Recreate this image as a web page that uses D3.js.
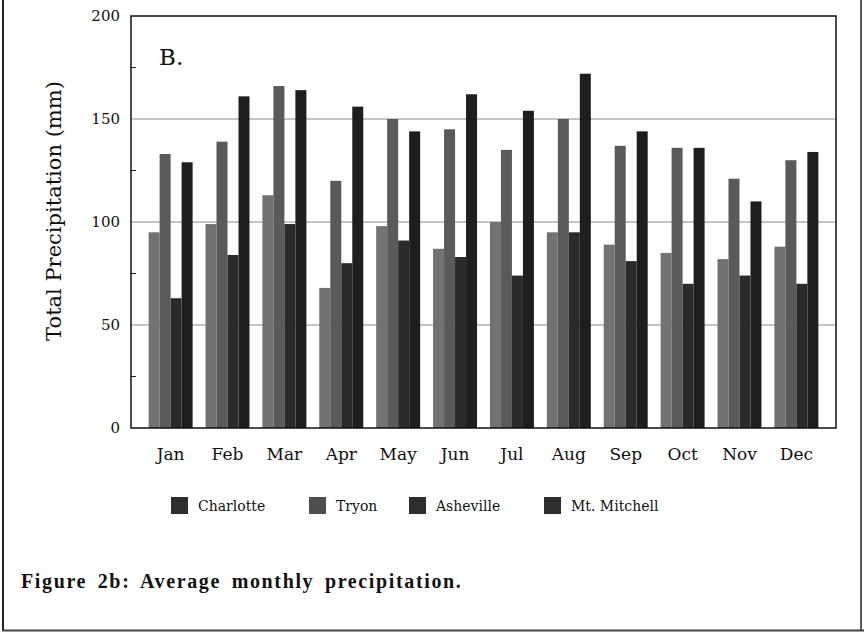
<!DOCTYPE html>
<html><head><meta charset="utf-8">
<script src="https://cdn.jsdelivr.net/npm/d3@7"></script>
<style>body{margin:0;background:#fff}svg{display:block}</style>
</head><body>
<svg id="c" width="864" height="634"></svg>
<script>
const months = ["Jan","Feb","Mar","Apr","May","Jun","Jul","Aug","Sep","Oct","Nov","Dec"];
const stations = ["Charlotte","Tryon","Asheville","Mt. Mitchell"];
const charlotte = [95,99,113,68,98,87,100,95,89,85,82,88];
const tryon     = [133,139,166,120,150,145,135,150,137,136,121,130];
const asheville = [63,84,99,80,91,83,74,95,81,70,74,70];
const mitchell  = [129,161,164,156,144,162,154,172,144,136,110,134];
const yTicks = [0,50,100,150,200];
const yMinor = [25,75,125,175];
const series = [charlotte, tryon, asheville, mitchell];
const colors = ["#727272","#5a5a5a","#2a2a2a","#1e1e1e"];

const svg = d3.select("#c");
const L=131, R=836, T=16, B=428;

const x = d3.scaleBand().domain(months).range([L,R]).paddingInner(0.227).paddingOuter(0.31);
const xs = d3.scaleBand().domain(stations).range([0,x.bandwidth()]).padding(0);
const y = d3.scaleLinear().domain([0,200]).range([B,T]);

// outer frame
svg.append("line").attr("x1",3).attr("x2",3).attr("y1",0).attr("y2",631).attr("stroke","#222").attr("stroke-width",2);
svg.append("line").attr("x1",861).attr("x2",861).attr("y1",0).attr("y2",631).attr("stroke","#222").attr("stroke-width",1.5);
svg.append("line").attr("x1",2).attr("x2",864).attr("y1",630.5).attr("y2",630.5).attr("stroke","#444").attr("stroke-width",2);

// gridlines
svg.append("g").selectAll("line").data([50,100,150]).join("line")
  .attr("x1",L).attr("x2",R).attr("y1",d=>y(d)).attr("y2",d=>y(d))
  .attr("stroke","#8a8a8a").attr("stroke-width",1);

// bars
const g = svg.append("g");
months.forEach((m,i)=>{
  series.forEach((s,j)=>{
    g.append("rect")
      .attr("x", x(m)+xs(stations[j]))
      .attr("width", xs.bandwidth())
      .attr("y", y(s[i]))
      .attr("height", y(0)-y(s[i]))
      .attr("fill", colors[j]);
  });
});

// minor ticks
svg.append("g").selectAll("line").data(yMinor).join("line")
  .attr("x1",L).attr("x2",L+5).attr("y1",d=>y(d)).attr("y2",d=>y(d))
  .attr("stroke","#222").attr("stroke-width",1);

// plot frame
svg.append("rect").attr("x",L).attr("y",T).attr("width",R-L).attr("height",B-T)
  .attr("fill","none").attr("stroke","#111").attr("stroke-width",1.5);

// y axis labels
const yAxis = d3.axisLeft(y).tickValues(yTicks).tickSize(0).tickPadding(11);
const ya = svg.append("g").attr("transform",`translate(${L},0)`).call(yAxis);
ya.select(".domain").remove();
ya.selectAll("text").attr("font-family","DejaVu Serif").attr("font-size",15).attr("fill","#111");

// x axis labels
const xAxis = d3.axisBottom(x).tickSize(0).tickPadding(20);
const xa = svg.append("g").attr("transform",`translate(0,${B})`).call(xAxis);
xa.select(".domain").remove();
xa.selectAll("text").attr("font-family","DejaVu Serif").attr("font-size",17).attr("fill","#111");

// y title
svg.append("text").attr("transform","translate(61,211) rotate(-90)")
  .attr("text-anchor","middle").attr("font-family","DejaVu Serif").attr("font-size",21).attr("fill","#111")
  .text("Total Precipitation (mm)");

// panel label
svg.append("text").attr("x",159).attr("y",65).attr("font-family","DejaVu Serif").attr("font-size",23).attr("fill","#111").text("B.");

// legend
const legX = [171,309,409,544];
const lg = svg.append("g");
stations.forEach((s,j)=>{
  lg.append("rect").attr("x",legX[j]).attr("y",497).attr("width",17).attr("height",17).attr("fill",j==1?"#4e4e4e":"#2e2e2e");
  lg.append("text").attr("x",legX[j]+27).attr("y",511).attr("font-family","DejaVu Serif").attr("font-size",14).attr("fill","#111").text(s);
});

// caption
svg.append("text").attr("x",21).attr("y",588).attr("font-family","Liberation Serif").attr("font-weight","bold")
  .attr("font-size",20).attr("fill","#111").attr("letter-spacing",1.2).attr("word-spacing",4)
  .attr("textLength",441).attr("lengthAdjust","spacing")
  .text("Figure 2b: Average monthly precipitation.");
</script>
</body></html>
